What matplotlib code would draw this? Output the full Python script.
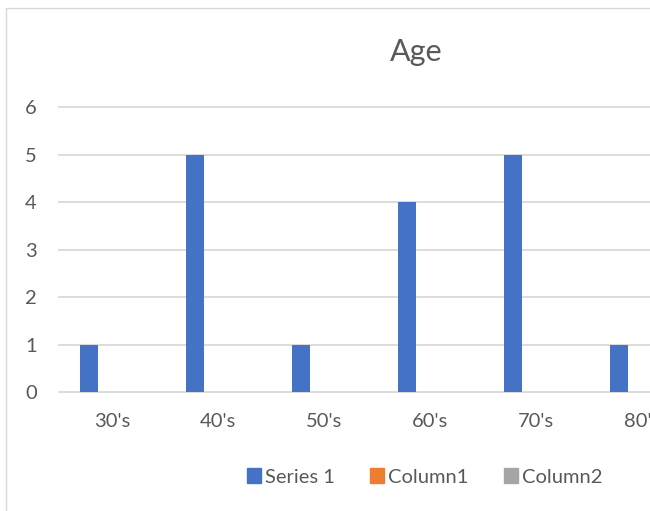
import numpy as np
import matplotlib
matplotlib.use("Agg")
import matplotlib.pyplot as plt
from matplotlib.patches import Rectangle

plt.rcParams['font.family'] = ['Lato', 'DejaVu Sans']

categories = ["30's", "40's", "50's", "60's", "70's", "80's"]
series_names = ["Series 1", "Column1", "Column2"]
series1 = [1, 5, 1, 4, 5, 1]
column1 = [np.nan] * 6
column2 = [np.nan] * 6
colors = ["#4472C4", "#ED7D31", "#A5A5A5"]
text_color = "#595959"
grid_color = "#D9D9D9"


def main():
    fig = plt.figure(figsize=(6.5, 5.11), dpi=100)
    # chart area border (right and bottom parts fall outside the picture)
    fig.patches.append(Rectangle((6 / 650, -0.1), 1.2, (511 - 8) / 511 + 0.1,
                                 transform=fig.transFigure, fill=False,
                                 edgecolor=grid_color, linewidth=1))

    ax = fig.add_axes([59 / 650, (511 - 392) / 511, 636 / 650, 285 / 511])
    x = np.arange(len(categories))
    off = 23 / 106
    w = 18 / 106
    data = [series1, column1, column2]
    for i, vals in enumerate(data):
        ax.bar(x + (i - 1) * off, vals, width=w, color=colors[i],
               label=series_names[i], zorder=3)

    ax.set_xlim(-0.5, len(categories) - 0.5)
    ax.set_ylim(0, 6)
    ax.set_yticks(range(0, 7))
    ax.set_xticks(x)
    ax.set_xticklabels(categories)
    ax.grid(axis="y", color=grid_color, linewidth=1.3, zorder=0)
    for line in ax.get_ygridlines():
        line.set_clip_on(False)
    for s in ax.spines.values():
        s.set_visible(False)
    ax.tick_params(axis="both", length=0, labelsize=14.5, colors=text_color)
    ax.tick_params(axis="y", pad=16)
    ax.tick_params(axis="x", pad=15)

    fig.text(416 / 650, 1 - 52 / 511, "Age", ha="center", va="center",
             fontsize=22, color=text_color)

    handles = [Rectangle((0, 0), 1, 1, color=c) for c in colors]
    leg = fig.legend(handles, series_names, loc="center left",
                     bbox_to_anchor=(229 / 650, 1 - 477 / 511), ncol=3,
                     frameon=False, fontsize=14.5, handlelength=0.7,
                     handleheight=0.7, handletextpad=0.2, columnspacing=1.75)
    for t in leg.get_texts():
        t.set_color(text_color)

    fig.savefig("out.png", dpi=100)


if __name__ == "__main__":
    main()
